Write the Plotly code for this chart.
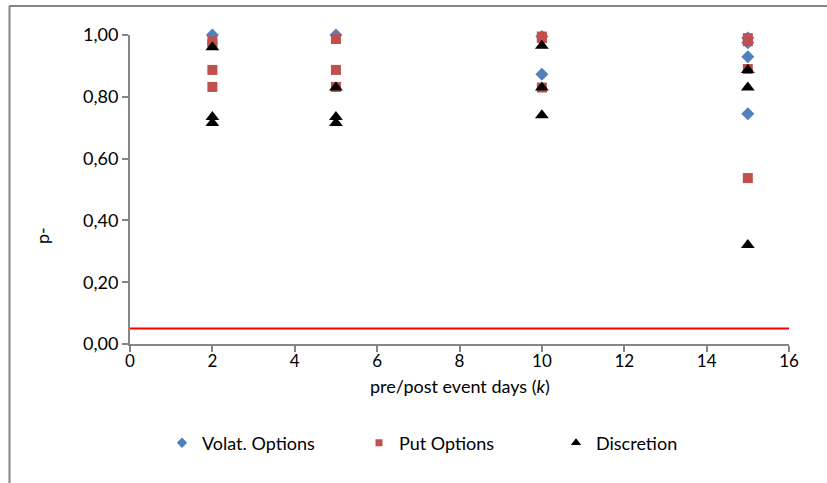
import plotly.graph_objects as go

# Data
volat_k = [2, 5, 10, 10, 15, 15, 15, 15]
volat_p = [1.00, 1.00, 0.995, 0.873, 0.99, 0.975, 0.93, 0.745]

put_k = [2, 2, 2, 2, 5, 5, 5, 10, 10, 10, 15, 15, 15, 15]
put_p = [0.98, 0.97, 0.887, 0.832, 0.987, 0.887, 0.832, 0.995, 0.99, 0.83, 0.99, 0.98, 0.89, 0.537]

disc_k = [2, 2, 2, 5, 5, 5, 10, 10, 10, 15, 15, 15]
disc_p = [0.96, 0.735, 0.715, 0.83, 0.735, 0.715, 0.965, 0.83, 0.74, 0.887, 0.83, 0.32]

threshold_k = [0, 16]
threshold_p = [0.05, 0.05]

x_ticks = [0, 2, 4, 6, 8, 10, 12, 14, 16]
y_ticks = [0, 0.2, 0.4, 0.6, 0.8, 1.0]

BLUE = "#4F81BD"
RED = "#C0504D"
BLACK = "#000000"
AXIS = "#868686"
FONT = "Lato"

fig = go.Figure()

series = [
    ("Volat. Options", volat_k, volat_p, "diamond", BLUE, 10, 8),
    ("Put Options", put_k, put_p, "square", RED, 10, 7),
    ("Discretion", disc_k, disc_p, "triangle-up", BLACK, 12, 9),
]

fig.add_trace(go.Scatter(x=threshold_k, y=threshold_p, mode="lines",
                         line=dict(color="#FF0000", width=2),
                         showlegend=False, hoverinfo="skip", cliponaxis=False))

for name, xs, ys, sym, col, size, lsize in series:
    fig.add_trace(go.Scatter(x=xs, y=ys, mode="markers", name=name,
                             legendgroup=name, showlegend=False,
                             marker=dict(symbol=sym, color=col, size=size, line=dict(width=0)),
                             cliponaxis=False))
for name, xs, ys, sym, col, size, lsize in series:
    fig.add_trace(go.Scatter(x=[None], y=[None], mode="markers", name=name,
                             legendgroup=name, showlegend=True,
                             marker=dict(symbol=sym, color=col, size=lsize, line=dict(width=0))))

L, R, T, B = 130, 38, 35, 139
W, H = 827, 483
pw = W - L - R
ph = H - T - B

def px_x(p):
    return (p - L) / pw

def px_y(p):
    return (H - B - p) / ph

fig.update_layout(
    width=W, height=H,
    margin=dict(l=L, r=R, t=T, b=B, pad=0),
    paper_bgcolor="white", plot_bgcolor="white",
    separators=",.",
    font=dict(family=FONT, size=18, color="#000000"),
    showlegend=True,
    legend=dict(orientation="h", x=px_x(162), xanchor="left",
                y=px_y(443), yanchor="middle",
                font=dict(family=FONT, size=18, color="#000000"),
                entrywidth=152, entrywidthmode="pixels",
                itemsizing="trace", traceorder="normal",
                bgcolor="rgba(0,0,0,0)"),
    xaxis=dict(range=[0, 16], tickvals=x_ticks, showgrid=False, zeroline=False,
               showline=True, linecolor=AXIS, linewidth=2,
               ticks="outside", ticklen=6, tickwidth=2, tickcolor=AXIS,
               ticklabelstandoff=-5,
               tickfont=dict(family=FONT, size=17, color="#000000")),
    yaxis=dict(range=[0, 1.0], tickvals=y_ticks, tickformat=".2f", showgrid=False,
               zeroline=False, showline=True, linecolor=AXIS, linewidth=2,
               ticks="outside", ticklen=6, tickwidth=2, tickcolor=AXIS,
               tickfont=dict(family=FONT, size=18, color="#000000")),
    annotations=[
        dict(text="pre/post event days (<i>k</i>)", xref="paper", yref="paper",
             x=0.5, y=px_y(386), xanchor="center", yanchor="middle",
             showarrow=False, font=dict(family=FONT, size=18)),
        dict(text="p-", xref="paper", yref="paper", textangle=-90,
             x=px_x(42), y=px_y(236), xanchor="center", yanchor="middle",
             showarrow=False, font=dict(family=FONT, size=18)),
    ],
    shapes=[
        dict(type="line", xref="paper", yref="paper",
             x0=px_x(9), x1=px_x(827), y0=px_y(6), y1=px_y(6),
             line=dict(color=AXIS, width=2)),
        dict(type="line", xref="paper", yref="paper",
             x0=px_x(9.5), x1=px_x(9.5), y0=px_y(6), y1=px_y(483),
             line=dict(color=AXIS, width=2)),
    ],
)

fig.write_html("out.html")
